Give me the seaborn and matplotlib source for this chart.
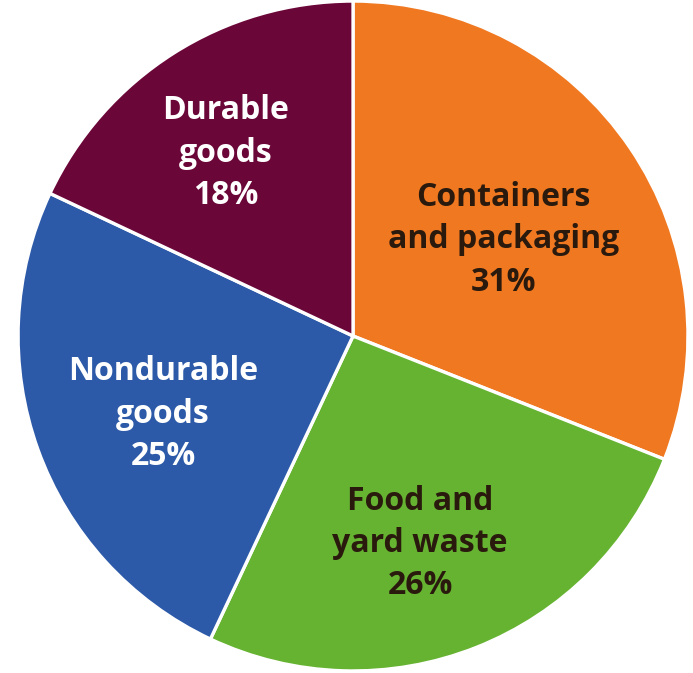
import matplotlib
matplotlib.use('Agg')
import matplotlib.pyplot as plt
import seaborn as sns

# waste categories, clockwise from 12 o'clock
categories = ['Containers\nand packaging', 'Food and\nyard waste', 'Nondurable\ngoods', 'Durable\ngoods']
shares = [31, 26, 25, 18]
colors = ['#F07820', '#66B332', '#2D5AA8', '#6B0638']
text_colors = ['#2A1A0E', '#2A1A0E', 'white', 'white']
# label centers (in pie radius units)
label_pos = [(0.45, 0.287), (0.20, -0.62), (-0.567, -0.233), (-0.38, 0.546)]

sns.set_theme(style='white')
plt.rcParams['font.family'] = ['Open Sans', 'DejaVu Sans']

fig = plt.figure(figsize=(6.93, 6.73), dpi=100)
ax = fig.add_axes([0, 0, 1, 1])

wedges, _ = ax.pie(shares, colors=colors, startangle=90, counterclock=False,
                   radius=1, wedgeprops=dict(edgecolor='white', linewidth=2.4))

for cat, val, (x, y), tc in zip(categories, shares, label_pos, text_colors):
    ax.text(x, y, f'{cat}\n{val}%', ha='center', va='center', color=tc,
            fontsize=23, fontweight='bold', linespacing=1.37)

ax.set_xlim(-1.054, 1.015)
ax.set_ylim(-1.006, 1.003)
ax.set_aspect('equal')
ax.axis('off')

fig.savefig('out.png', dpi=100, facecolor='white')
